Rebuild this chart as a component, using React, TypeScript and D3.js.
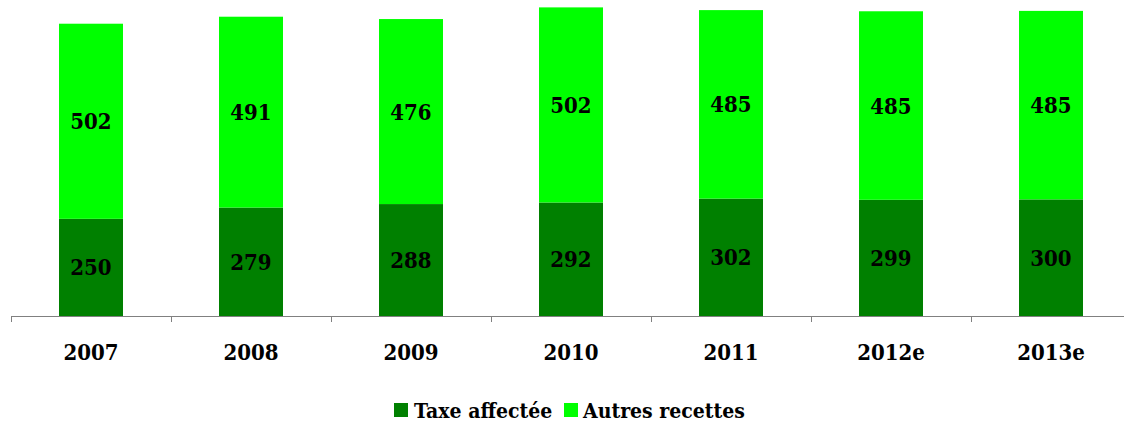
import * as d3 from "d3";

const years = ["2007", "2008", "2009", "2010", "2011", "2012e", "2013e"];
const taxe = [250, 279, 288, 292, 302, 299, 300];
const autres = [502, 491, 476, 502, 485, 485, 485];
const seriesNames = ["Taxe affectée", "Autres recettes"];
const colors = ["#008000", "#00ff00"];

export default function App() {
  const width = 1124;
  const height = 423;
  const axisY = 316;
  const font = "'DejaVu Serif Condensed', 'DejaVu Serif', serif";

  const x = d3.scaleBand().domain(years).range([11, 1131]).padding(0);
  const y = d3.scaleLinear().domain([0, 813]).range([axisY, 0]);
  const barW = 64;

  const rows = years.map((yr, i) => ({ year: yr, taxe: taxe[i], autres: autres[i] }));
  const stack = d3.stack<any>().keys(["taxe", "autres"])(rows);

  const boundaries = d3.range(years.length + 1).map((i) => 11 + i * x.bandwidth());

  return (
    <svg
      width={width}
      height={height}
      style={{ position: "absolute", left: 0, top: 0, background: "#fff" }}
      fontFamily={font}
      fontWeight="bold"
    >
      {stack.map((layer, li) => (
        <g key={li}>
          {layer.map((d, i) => {
            const cx = x(years[i])! + x.bandwidth() / 2;
            const y0 = y(d[0]);
            const y1 = y(d[1]);
            return (
              <g key={i}>
                <rect x={cx - barW / 2} y={y1} width={barW} height={y0 - y1} fill={colors[li]} />
                <text
                  x={cx}
                  y={(y0 + y1) / 2}
                  textAnchor="middle"
                  dominantBaseline="central"
                  fontSize={22}
                  fill="#000"
                >
                  {d[1] - d[0]}
                </text>
              </g>
            );
          })}
        </g>
      ))}

      {/* axis */}
      <line x1={11} x2={width} y1={axisY + 0.5} y2={axisY + 0.5} stroke="#808080" strokeWidth={1} />
      {boundaries.map((bx, i) => (
        <line key={i} x1={bx + 0.5} x2={bx + 0.5} y1={axisY} y2={axisY + 6} stroke="#808080" strokeWidth={1} />
      ))}
      {years.map((yr) => (
        <text
          key={yr}
          x={x(yr)! + x.bandwidth() / 2}
          y={360}
          textAnchor="middle"
          fontSize={22}
          fill="#000"
        >
          {yr}
        </text>
      ))}

      {/* legend */}
      <rect x={394} y={403} width={14} height={14} fill={colors[0]} />
      <text x={414} y={418} fontSize={21} fill="#000">{seriesNames[0]}</text>
      <rect x={564} y={403} width={14} height={14} fill={colors[1]} />
      <text x={583} y={418} fontSize={21} fill="#000">{seriesNames[1]}</text>
    </svg>
  );
}
